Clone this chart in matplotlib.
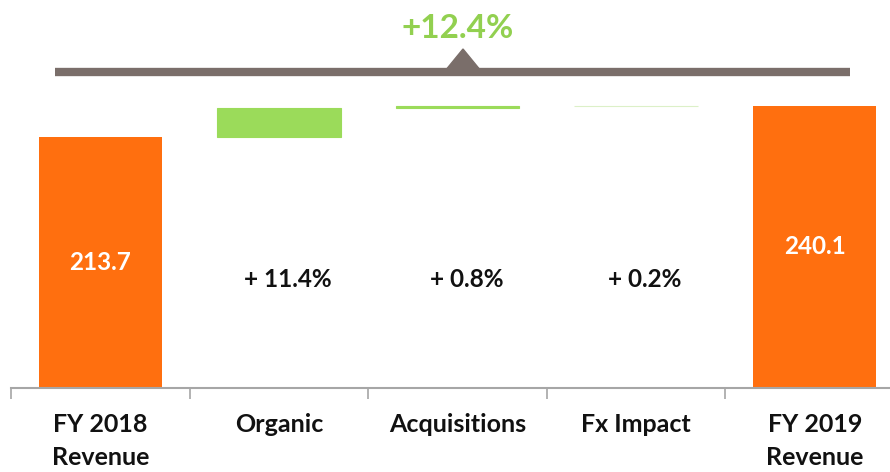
import matplotlib.pyplot as plt
from matplotlib.patches import Polygon

plt.rcParams['font.family'] = ['Lato', 'DejaVu Sans']

categories = ['FY 2018\nRevenue', 'Organic', 'Acquisitions', 'Fx Impact', 'FY 2019\nRevenue']
start_value = 213.7
end_value = 240.1
deltas = [24.4, 1.6, 0.4]
delta_labels = ['+ 11.4%', '+ 0.8%', '+ 0.2%']
total_label = '+12.4%'

orange = '#ff6f0f'
green = '#9bdb5a'
delta_colors = [green, green, '#dcf0c8']
brown = '#7a6e6a'

fig = plt.figure(figsize=(8.9, 4.72), dpi=100)
ax = fig.add_axes([11 / 890, 84 / 472, 893 / 890, 388 / 472])

width = 0.69
# totals
ax.bar(0, start_value, width=width, color=orange)
ax.bar(4, end_value, width=width, color=orange)
ax.text(0, start_value / 2, f'{start_value:.1f}', ha='center', va='center',
        color='white', fontsize=17.5, fontweight='bold')
ax.text(4, end_value / 2, f'{end_value:.1f}', ha='center', va='center',
        color='white', fontsize=17.5, fontweight='bold')

# floating deltas
base = start_value
for i, (d, lab, c) in enumerate(zip(deltas, delta_labels, delta_colors), start=1):
    ax.bar(i, d, bottom=base, width=width, color=c, edgecolor=c, linewidth=0.8)
    base += d
    ax.text(i + 0.05, 92, lab, ha='center', va='center', color='#111111',
            fontsize=17.5, fontweight='bold')

ax.set_xlim(-0.5, 4.5)
ax.set_ylim(0, 330.3)
ax.set_yticks([])
for s in ['left', 'right', 'top']:
    ax.spines[s].set_visible(False)
ax.spines['bottom'].set_color('#a6a6a6')
ax.spines['bottom'].set_linewidth(1.5)

ax.set_xticks(range(len(categories)))
ax.set_xticklabels(categories, fontsize=18, fontweight='bold', linespacing=1.55,
                   color='#111111')
ax.tick_params(axis='x', which='major', length=0, pad=18)
ax.set_xticks([i - 0.5 for i in range(len(categories) + 1)], minor=True)
ax.tick_params(axis='x', which='minor', length=8, width=1.2, color='#a6a6a6')

# bracket with total growth
fig.add_artist(plt.Line2D([55 / 890, 850 / 890], [1 - 72 / 472, 1 - 72 / 472],
                          color=brown, linewidth=6, solid_capstyle='butt'))
fig.add_artist(Polygon([[445 / 890, 1 - 71 / 472], [481 / 890, 1 - 71 / 472],
                        [463 / 890, 1 - 49 / 472]], closed=True,
                       transform=fig.transFigure, color=brown))
fig.text(458 / 890, 1 - 28 / 472, total_label, ha='center', va='center',
         color='#92d050', fontsize=24, fontweight='bold')

fig.savefig('out.png', dpi=100)
